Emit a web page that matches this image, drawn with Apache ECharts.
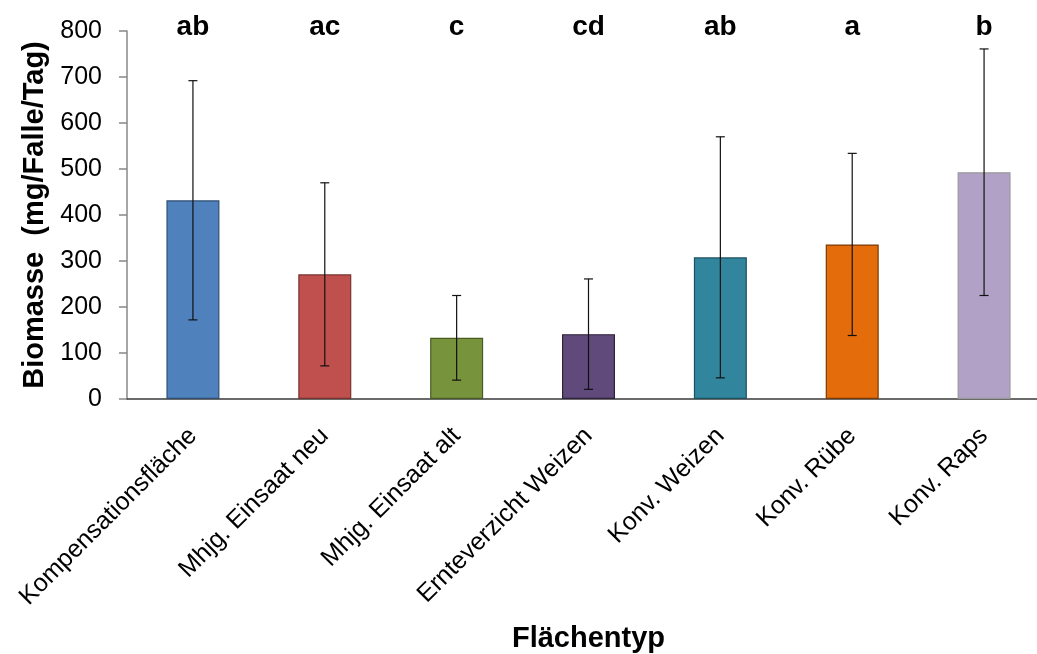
<!DOCTYPE html>
<html>
<head>
<meta charset="utf-8">
<script src="https://cdn.jsdelivr.net/npm/echarts@6/dist/echarts.min.js"></script>
<style>
  html, body { margin: 0; padding: 0; background: #fff; }
  #chart { width: 1037px; height: 654px; }
</style>
</head>
<body>
<div id="chart"></div>
<script>
// Mean biomass per trap and day by field type, with standard deviation
const categories = ['Kompensationsfläche', 'Mhjg. Einsaat neu', 'Mhjg. Einsaat alt', 'Ernteverzicht Weizen', 'Konv. Weizen', 'Konv. Rübe', 'Konv. Raps'];
const means = [432, 271, 133, 141, 308, 336, 493];
const sd = [260, 199, 92, 120, 262, 198, 268];
const letters = ['ab', 'ac', 'c', 'cd', 'ab', 'a', 'b'];
const yTicks = [0, 100, 200, 300, 400, 500, 600, 700, 800];

const fillColors = ['#4F81BD', '#C0504D', '#77933C', '#604A7B', '#31859C', '#E46C0A', '#B2A1C7'];
const edgeColors = ['#2F4E72', '#7A3230', '#4A5C25', '#2E233B', '#1E5260', '#7A3A06', '#9A9A9A'];

const FONT = "'Liberation Sans', Arial, sans-serif";

const chart = echarts.init(document.getElementById('chart'), null, { renderer: 'canvas' });

const errorData = means.map((m, i) => [i, m - sd[i], m + sd[i]]);

chart.setOption({
  backgroundColor: '#ffffff',
  animation: false,
  grid: { left: 127, top: 31, width: 923, height: 368, containLabel: false, outerBoundsMode: 'none' },
  xAxis: [
    {
      type: 'category',
      data: categories,
      position: 'bottom',
      axisLine: { lineStyle: { color: '#3a3a3a', width: 1.5 } },
      axisTick: { show: false },
      axisLabel: {
        rotate: 45,
        interval: 0,
        margin: 33,
        fontFamily: FONT,
        fontSize: 25,
        color: '#000'
      },
      name: 'Flächentyp',
      nameLocation: 'middle',
      nameGap: 225,
      nameTextStyle: { fontFamily: FONT, fontSize: 29, fontWeight: 'bold', color: '#000' }
    },
    {
      type: 'category',
      data: letters,
      position: 'top',
      axisLine: { show: false },
      axisTick: { show: false },
      axisLabel: {
        interval: 0,
        margin: 4,
        verticalAlign: 'middle',
        fontFamily: FONT,
        fontSize: 28,
        fontWeight: 'bold',
        color: '#000'
      }
    }
  ],
  yAxis: {
    type: 'value',
    min: yTicks[0],
    max: yTicks[yTicks.length - 1],
    interval: yTicks[1] - yTicks[0],
    axisLine: { show: true, lineStyle: { color: '#888888', width: 1.5 } },
    axisTick: { show: true, inside: false, length: 8, lineStyle: { color: '#888888', width: 1.5 } },
    splitLine: { show: false },
    axisLabel: { margin: 25, fontFamily: FONT, fontSize: 25, color: '#000' },
    name: 'Biomasse  (mg/Falle/Tag)',
    nameLocation: 'middle',
    nameRotate: 90,
    nameGap: 70,
    nameTextStyle: { fontFamily: FONT, fontSize: 29, fontWeight: 'bold', color: '#000' }
  },
  series: [
    {
      type: 'bar',
      xAxisIndex: 0,
      barWidth: 53,
      data: means.map((v, i) => ({
        value: v,
        itemStyle: { color: fillColors[i], borderColor: edgeColors[i], borderWidth: 1.2 }
      }))
    },
    {
      type: 'custom',
      xAxisIndex: 0,
      z: 5,
      data: errorData,
      renderItem: function (params, api) {
        const x = api.value(0);
        const lo = api.coord([x, api.value(1)]);
        const hi = api.coord([x, api.value(2)]);
        const cap = 4.5;
        const style = { stroke: '#111', lineWidth: 1.2 };
        return {
          type: 'group',
          children: [
            { type: 'line', shape: { x1: hi[0], y1: hi[1], x2: lo[0], y2: lo[1] }, style: style },
            { type: 'line', shape: { x1: hi[0] - cap, y1: hi[1], x2: hi[0] + cap, y2: hi[1] }, style: style },
            { type: 'line', shape: { x1: lo[0] - cap, y1: lo[1], x2: lo[0] + cap, y2: lo[1] }, style: style }
          ]
        };
      }
    }
  ]
});
</script>
</body>
</html>
